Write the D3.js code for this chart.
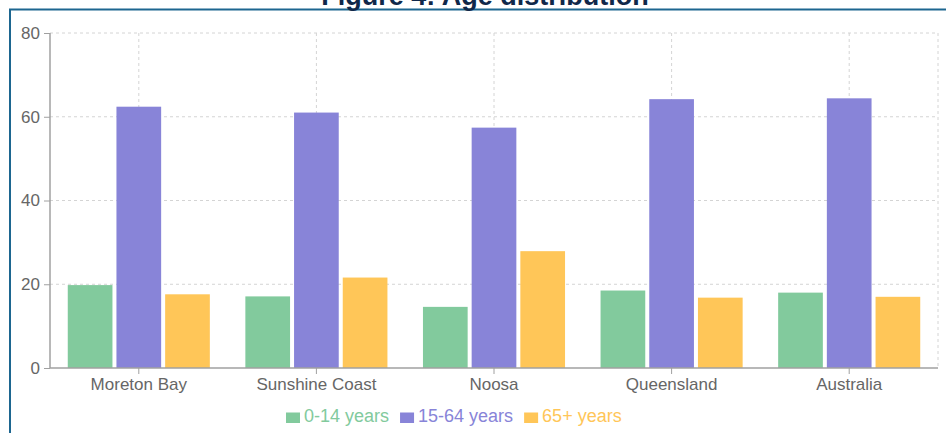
<!DOCTYPE html>
<html>
<head>
<meta charset="utf-8">
<script src="https://cdn.jsdelivr.net/npm/d3@7"></script>
<style>
  html, body { margin: 0; padding: 0; background: #fff; overflow: hidden; }
  svg { display: block; font-family: "Liberation Sans", Arial, sans-serif; }
</style>
</head>
<body>
<svg id="chart" width="946" height="433"></svg>
<script>
// Population share by age group (%)
const categories = ["Moreton Bay", "Sunshine Coast", "Noosa", "Queensland", "Australia"];
const seriesNames = ["0-14 years", "15-64 years", "65+ years"];
const age0to14 = [19.8, 17.1, 14.6, 18.5, 18.0];
const age15to64 = [62.4, 61.0, 57.4, 64.2, 64.4];
const age65plus = [17.6, 21.6, 27.9, 16.8, 17.0];
const yTicks = [0, 20, 40, 60, 80];
const seriesColors = ["#82ca9d", "#8884d8", "#ffc658"];

const seriesValues = [age0to14, age15to64, age65plus];
const rows = categories.map((c, i) => ({
  category: c,
  values: seriesNames.map((s, k) => ({ key: s, value: seriesValues[k][i], color: seriesColors[k] }))
}));

const svg = d3.select("#chart");
const plotLeft = 50, plotRight = 938, plotTop = 33, plotBottom = 368;

// Frame around the figure and the title above it
svg.append("rect")
  .attr("x", 10).attr("y", 9.5)
  .attr("width", 960).attr("height", 440)
  .attr("fill", "none").attr("stroke", "#1d6690").attr("stroke-width", 2);

svg.append("text")
  .attr("x", 485).attr("y", 5)
  .attr("text-anchor", "middle")
  .attr("font-size", 27).attr("font-weight", "bold")
  .attr("fill", "#10284a")
  .text("Figure 4: Age distribution");

const x0 = d3.scaleBand().domain(categories).range([plotLeft, plotRight]).padding(0);
const bw = x0.bandwidth();
const innerW = bw * 0.8;
const p = 12 / (innerW + 4);
const x1 = d3.scaleBand().domain(seriesNames)
  .range([bw * 0.1, bw * 0.9]).paddingInner(p).paddingOuter(0);
const y = d3.scaleLinear().domain([0, 80]).range([plotBottom, plotTop]);

// Dashed grid
const grid = svg.append("g").attr("stroke", "#d4d4d4").attr("stroke-dasharray", "3 3");
yTicks.filter(t => t > 0).forEach(t => {
  grid.append("line").attr("x1", plotLeft).attr("x2", plotRight)
    .attr("y1", y(t)).attr("y2", y(t));
});
categories.forEach(c => {
  const cx = x0(c) + bw / 2;
  grid.append("line").attr("x1", cx).attr("x2", cx).attr("y1", plotTop).attr("y2", plotBottom);
});
grid.append("line").attr("x1", plotRight).attr("x2", plotRight).attr("y1", plotTop).attr("y2", plotBottom);

// Bars
const groups = svg.append("g").selectAll("g").data(rows).join("g")
  .attr("transform", d => `translate(${x0(d.category)},0)`);
groups.selectAll("rect").data(d => d.values).join("rect")
  .attr("x", d => x1(d.key))
  .attr("width", x1.bandwidth())
  .attr("y", d => y(d.value))
  .attr("height", d => y(0) - y(d.value))
  .attr("fill", d => d.color);

// Axes
const yAxis = d3.axisLeft(y).tickValues(yTicks).tickSize(6).tickPadding(4);
const gy = svg.append("g").attr("transform", `translate(${plotLeft},0)`).call(yAxis);
const xAxis = d3.axisBottom(x0).tickSize(6).tickPadding(4);
const gx = svg.append("g").attr("transform", `translate(0,${plotBottom})`).call(xAxis);

[gy, gx].forEach(g => {
  g.select(".domain").attr("stroke", "#a0a0a0").attr("stroke-width", 1.5);
  g.selectAll(".tick line").attr("stroke", "#a0a0a0");
  g.selectAll(".tick text").attr("fill", "#666").attr("font-size", 17)
    .attr("font-family", "Liberation Sans, Arial, sans-serif");
});
gx.select(".domain").attr("d", `M${plotLeft},0H${plotRight}`);
gy.select(".domain").attr("d", `M0,${plotTop}V${plotBottom}`);

// Legend
const legend = svg.append("g");
let lx = 286;
seriesNames.forEach((s, k) => {
  legend.append("rect")
    .attr("x", lx).attr("y", 412.5).attr("width", 14).attr("height", 10.5)
    .attr("fill", seriesColors[k]);
  const t = legend.append("text")
    .attr("x", lx + 18).attr("y", 422)
    .attr("font-size", 18).attr("fill", seriesColors[k])
    .text(s);
  lx += 18 + t.node().getComputedTextLength() + 11;
});
</script>
</body>
</html>
